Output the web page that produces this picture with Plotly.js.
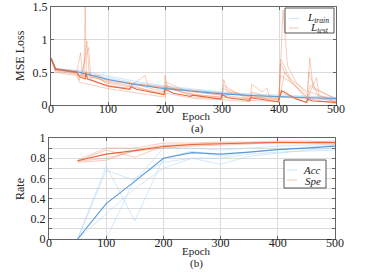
<!DOCTYPE html>
<html><head><meta charset="utf-8">
<script src="https://cdn.plot.ly/plotly-3.0.1.min.js"></script>
<style>html,body{margin:0;padding:0;background:#fff}#c{width:366px;height:273px}</style>
</head><body><div id="c"></div>
<script>
// ---------- (a) loss curves ----------
const trainEpochs = [0,8,50,100,150,200,250,300,350,400,450,500];
const trainLossMean = [0.72,0.55,0.50,0.39,0.31,0.25,0.21,0.17,0.145,0.125,0.11,0.10];
const trainLossFolds = [
  [0.72,0.56,0.52,0.42,0.34,0.28,0.23,0.19,0.16,0.14,0.125,0.115],
  [0.71,0.55,0.53,0.44,0.36,0.29,0.24,0.20,0.17,0.15,0.13,0.12],
  [0.72,0.54,0.49,0.40,0.32,0.26,0.22,0.18,0.15,0.13,0.12,0.11]
];
const testMeanEpochs = [0,8,45,50,60,61,64,100,138,140,150,198,200,215,245,248,298,300,310,348,350,398,400,405,430,448,450,460,500];
const testLossMean = [0.72,0.55,0.50,0.43,0.40,0.50,0.40,0.29,0.24,0.28,0.24,0.16,0.24,0.18,0.13,0.15,0.09,0.16,0.11,0.07,0.11,0.05,0.09,0.22,0.09,0.04,0.09,0.06,0.04];
const testFoldEpochs = [
  [0,8,45,58,60,62,100,140,142,198,200,205,245,300,303,310,350,400,407,415,430,450,455,500],
  [0,8,45,52,55,63,67,100,140,165,170,200,202,245,250,300,350,352,370,379,382,400,403,420,450,454,460,500],
  [0,8,45,50,66,70,80,100,140,142,200,202,250,300,302,350,400,402,420,450,466,470,500],
  [0,8,45,60,85,100,150,200,250,300,302,350,400,402,430,450,452,470,500],
  [0,8,45,50,100,140,200,202,250,300,350,352,400,402,450,452,500],
  [0,8,45,55,100,130,140,145,198,200,250,300,350,352,400,410,440,450,455,500],
  [0,8,45,50,100,150,200,250,300,350,400,450,500]
];
const testFoldLoss = [
  [0.72,0.55,0.48,0.45,1.5,0.50,0.33,0.28,0.33,0.20,0.45,0.25,0.17,0.12,0.39,0.20,0.12,0.08,1.45,0.60,0.35,0.15,0.30,0.08],
  [0.70,0.53,0.50,0.80,0.45,0.98,0.45,0.35,0.30,0.45,0.30,0.22,0.35,0.18,0.20,0.15,0.10,0.32,0.20,0.26,0.15,0.10,0.70,0.40,0.20,0.72,0.25,0.10],
  [0.71,0.52,0.47,0.38,0.88,0.40,0.45,0.30,0.25,0.30,0.15,0.30,0.12,0.10,0.30,0.07,0.05,0.64,0.35,0.12,0.42,0.15,0.06],
  [0.72,0.56,0.52,0.45,0.45,0.36,0.32,0.26,0.20,0.15,0.25,0.12,0.10,0.45,0.30,0.10,0.50,0.10,0.05],
  [0.70,0.50,0.45,0.35,0.25,0.20,0.12,0.18,0.10,0.08,0.05,0.15,0.04,0.20,0.03,0.10,0.02],
  [0.72,0.54,0.49,0.42,0.28,0.26,0.33,0.27,0.18,0.27,0.15,0.12,0.09,0.20,0.07,0.50,0.18,0.06,0.20,0.04],
  [0.72,0.55,0.50,0.45,0.38,0.32,0.27,0.22,0.18,0.14,0.12,0.10,0.08]
];
// ---------- (b) rates ----------
const rateEpochs = [50,100,150,200,250,300,350,400,450,500];
const accMean = [0,0.35,0.57,0.80,0.855,0.84,0.86,0.885,0.90,0.92];
const accFolds = [
  [0,0.72,0.18,0.80,0.87,0.82,0.86,0.89,0.91,0.93],
  [0,0,0.60,0.76,0.80,0.74,0.82,0.85,0.88,0.90],
  [0,0.25,0.50,0.70,0.80,0.80,0.84,0.86,0.87,0.88],
  [0,0.68,0.58,0.90,0.90,0.88,0.90,0.92,0.93,0.94]
];
const speMean = [0.775,0.84,0.875,0.915,0.935,0.945,0.95,0.955,0.955,0.955];
const speFolds = [
  [0.78,0.90,0.90,0.95,0.95,0.96,0.96,0.97,0.97,0.96],
  [0.77,0.88,0.81,0.92,0.94,0.95,0.95,0.96,0.96,0.97],
  [0.76,0.78,0.88,0.93,0.93,0.94,0.95,0.95,0.95,0.95],
  [0.77,0.80,0.87,0.90,0.92,0.93,0.94,0.96,0.95,0.94]
];
const lossTickVals = [0,0.5,1,1.5];
const rateTickVals = [0,0.2,0.4,0.6,0.8,1];
const epochTickVals = [0,100,200,300,400,500];
const labelTrain = '<i>L</i><sub><i>train</i></sub>';
const labelTest = '<i>L</i><sub><i>test</i></sub>';
const labelAcc = '<i>Acc</i>';
const labelSpe = '<i>Spe</i>';

const blueFaint = 'rgba(165,210,248,0.55)';
const orangeFaint = 'rgba(236,130,90,0.45)';
const blueBold = '#5a9ad8';
const orangeBold = '#e8663a';
const serif = 'Liberation Serif';
const W = 366, H = 273;
const px = v => v / W, py = v => 1 - v / H;

const traces = [];
trainLossFolds.forEach(v=>traces.push({x:trainEpochs,y:v,type:'scatter',mode:'lines',
  line:{color:blueFaint,width:0.9},xaxis:'x',yaxis:'y'}));
testFoldLoss.forEach((v,i)=>traces.push({x:testFoldEpochs[i],y:v,type:'scatter',mode:'lines',
  line:{color:orangeFaint,width:0.9},xaxis:'x',yaxis:'y'}));
traces.push({x:trainEpochs,y:trainLossMean,type:'scatter',mode:'lines',line:{color:blueBold,width:1.1},xaxis:'x',yaxis:'y'});
traces.push({x:testMeanEpochs,y:testLossMean,type:'scatter',mode:'lines',line:{color:orangeBold,width:1.1},xaxis:'x',yaxis:'y'});
accFolds.forEach(v=>traces.push({x:rateEpochs,y:v,type:'scatter',mode:'lines',
  line:{color:blueFaint,width:0.9},xaxis:'x2',yaxis:'y2'}));
speFolds.forEach(v=>traces.push({x:rateEpochs,y:v,type:'scatter',mode:'lines',
  line:{color:orangeFaint,width:0.9},xaxis:'x2',yaxis:'y2'}));
traces.push({x:rateEpochs,y:accMean,type:'scatter',mode:'lines',line:{color:blueBold,width:1.1},xaxis:'x2',yaxis:'y2'});
traces.push({x:rateEpochs,y:speMean,type:'scatter',mode:'lines',line:{color:orangeBold,width:1.1},xaxis:'x2',yaxis:'y2'});

const axCommon = {showline:true,linecolor:'#666',linewidth:1,mirror:'ticks',ticks:'inside',ticklen:3,
  tickcolor:'#666',zeroline:false,gridcolor:'#dcdcdc',gridwidth:1,
  tickfont:{family:serif,size:12,color:'#222'}};
const tfont = {family:serif,size:12,color:'#222'};
const sfont = {family:serif,size:11,color:'#222'};

const shapes = [
  {type:'rect',xref:'paper',yref:'paper',x0:px(285),x1:px(334),y0:py(8),y1:py(33),line:{color:'#555',width:1},fillcolor:'#fff',layer:'above'},
  {type:'line',xref:'paper',yref:'paper',x0:px(289),x1:px(299),y0:py(18.5),y1:py(18.5),line:{color:blueFaint,width:1},layer:'above'},
  {type:'line',xref:'paper',yref:'paper',x0:px(289),x1:px(299),y0:py(28),y1:py(28),line:{color:orangeFaint,width:1},layer:'above'},
  {type:'rect',xref:'paper',yref:'paper',x0:px(284),x1:px(326),y0:py(160),y1:py(188),line:{color:'#555',width:1},fillcolor:'#fff',layer:'above'},
  {type:'line',xref:'paper',yref:'paper',x0:px(287),x1:px(297),y0:py(170),y1:py(170),line:{color:blueFaint,width:1},layer:'above'},
  {type:'line',xref:'paper',yref:'paper',x0:px(287),x1:px(297),y0:py(180),y1:py(180),line:{color:orangeFaint,width:1},layer:'above'}
];
const ann = (text,x,y,opts) => Object.assign({text,xref:'paper',yref:'paper',x:px(x),y:py(y),
  xanchor:'center',yanchor:'middle',showarrow:false,font:tfont},opts||{});
const annotations = [
  ann('MSE Loss',20,56,{textangle:-90}),
  ann('Epoch',196,116,{font:sfont}),
  ann('(a)',197,128,{font:sfont}),
  ann('Rate',20,189,{textangle:-90}),
  ann('Epoch',196,251.5,{font:sfont}),
  ann('(b)',196,263.5,{font:sfont}),
  ann(labelTrain,331,17.5,{xanchor:'right',font:sfont}),
  ann(labelTest,331,28,{xanchor:'right',font:sfont}),
  ann(labelAcc,323,169.5,{xanchor:'right',font:sfont}),
  ann(labelSpe,323,180.5,{xanchor:'right',font:sfont})
];

const layout = {
  width:W,height:H,margin:{l:0,r:0,t:0,b:0},paper_bgcolor:'#fff',plot_bgcolor:'#fff',
  font:{family:serif,color:'#222'},showlegend:false,
  xaxis:Object.assign({},axCommon,{domain:[px(51),px(336)],range:[0,500],tickvals:epochTickVals,anchor:'y',ticklabelstandoff:-7}),
  yaxis:Object.assign({},axCommon,{domain:[py(105),py(7)],range:[0,1.5],tickvals:lossTickVals,anchor:'x'}),
  xaxis2:Object.assign({},axCommon,{domain:[px(49),px(335)],range:[0,500],tickvals:epochTickVals,anchor:'y2',ticklabelstandoff:-7}),
  yaxis2:Object.assign({},axCommon,{domain:[py(239),py(138)],range:[0,1],tickvals:rateTickVals,anchor:'x2',
    minor:{dtick:0.1,showgrid:true,gridcolor:'#dcdcdc',ticks:'inside',ticklen:3,tickcolor:'#666'}}),
  shapes, annotations
};
Plotly.newPlot('c',traces,layout,{displayModeBar:false,staticPlot:true});
</script></body></html>
